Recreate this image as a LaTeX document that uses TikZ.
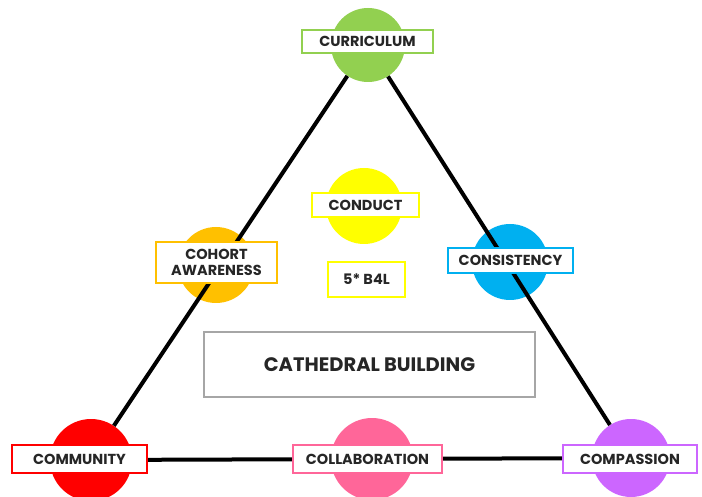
\documentclass[tikz,border=0pt]{standalone}
\usepackage{fontspec}
\setmainfont{Poppins}
\usepackage{tikz}
\usetikzlibrary{positioning}
\definecolor{cgreen}{HTML}{92D050}
\definecolor{corange}{HTML}{FFC000}
\definecolor{cyellow}{HTML}{FFFF00}
\definecolor{cblue}{HTML}{00B0F0}
\definecolor{cred}{HTML}{FF0000}
\definecolor{cpink}{HTML}{FF6699}
\definecolor{cpurple}{HTML}{CC66FF}
\definecolor{ctext}{HTML}{262626}
\tikzset{x=1pt, y=-1pt, font=\fontsize{14.5}{17}\selectfont\bfseries\color{ctext}}
\tikzstyle{disc} = [circle, draw=none, inner sep=0pt, minimum size=76pt]
\tikzstyle{tag} = [draw, line width=2pt, fill=white, rectangle, inner sep=0pt, minimum height=24pt, text centered, align=center]
\tikzstyle{edge} = [line width=4pt, black]

\begin{document}
\begin{tikzpicture}
		\useasboundingbox (0,0) rectangle (702,497);
		\clip (0,0) rectangle (702,497);
		% circles
		\node [disc, fill=cgreen, minimum size=74pt] (curriculum) at (368,45) {};
		\node [disc, fill=cblue] (consistency) at (510,262) {};
		\node [disc, fill=corange] (cohort) at (216,265) {};
		\node [disc, fill=cyellow] (conduct) at (364,206) {};
		\node [disc, fill=cred, minimum size=82pt] (community) at (91,460) {};
		\node [disc, fill=cpink, minimum size=82pt] (collaboration) at (372,459) {};
		\node [disc, fill=cpurple, minimum size=78pt] (compassion) at (631,458) {};

		\draw [edge] (curriculum) -- (community);
		\draw [edge] (curriculum) -- (compassion);
		\draw [edge] (community) -- (collaboration);
		\draw [edge] (collaboration) -- (compassion);

		% labels
		\node [tag, draw=cgreen, minimum width=131pt, minimum height=23pt] (curriculum-tag) at (367.5,41.5) {CURRICULUM};
		\node [tag, draw=cblue, minimum width=125pt, minimum height=25pt] (consistency-tag) at (510.5,260.5) {CONSISTENCY};
		\node [tag, draw=corange, minimum width=121pt, minimum height=41pt, font=\fontsize{14.5}{15.5}\selectfont\bfseries\color{ctext}] (cohort-tag) at (216.5,262.5) {COHORT\\AWARENESS};
		\node [tag, draw=cyellow, minimum width=107pt] (conduct-tag) at (365.5,205) {CONDUCT};
		\node [tag, draw=cyellow, minimum width=77pt, minimum height=35pt] (b4l) at (366.5,279.5) {5* B4L};
		\node [tag, draw=black!35, minimum width=331pt, minimum height=65pt, font=\fontsize{19.5}{22}\selectfont\bfseries\color{ctext}] (cathedral) at (369.5,364.5) {CATHEDRAL BUILDING};
		\node [tag, draw=cred, minimum width=135pt, minimum height=28pt] (community-tag) at (79.5,459) {COMMUNITY};
		\node [tag, draw=cpink, minimum width=149pt, minimum height=28pt] (collaboration-tag) at (367.5,459) {COLLABORATION};
		\node [tag, draw=cpurple, minimum width=134pt, minimum height=28pt] (compassion-tag) at (630,459) {COMPASSION};
	\end{tikzpicture}
\end{document}
